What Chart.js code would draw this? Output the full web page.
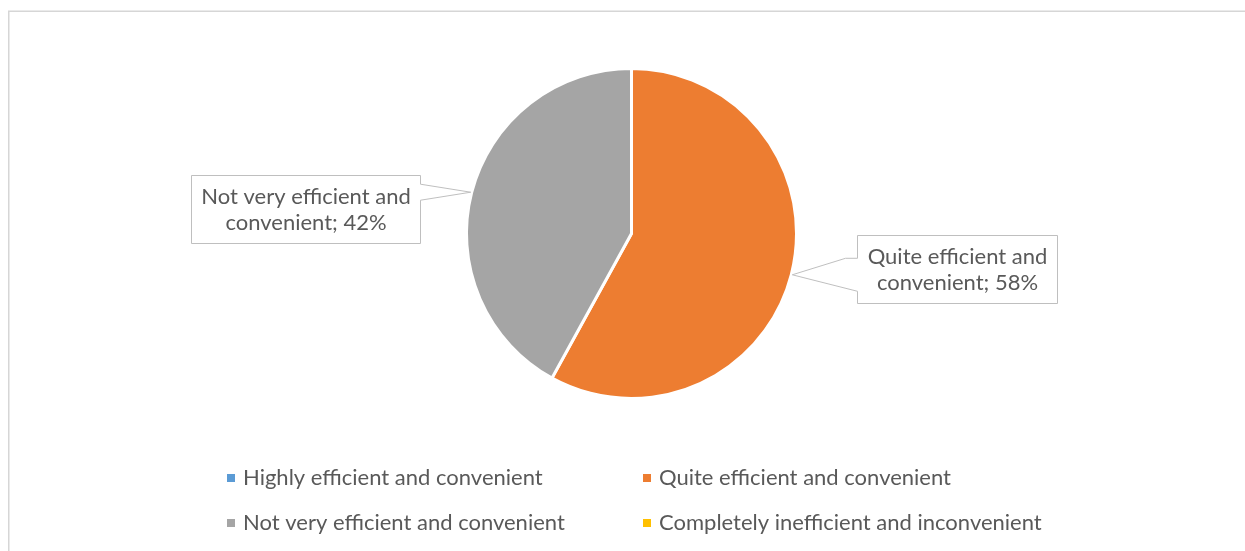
<!DOCTYPE html>
<html>
<head>
<meta charset="utf-8">
<script src="https://cdn.jsdelivr.net/npm/chart.js@4.4.1/dist/chart.umd.min.js"></script>
<style>
  html, body { margin: 0; padding: 0; background: #fff; }
  #wrap { position: relative; width: 1245px; height: 551px; }
</style>
</head>
<body>
<div id="wrap"><canvas id="efficiencyChart"></canvas></div>
<script>
const categories = [
    'Highly efficient and convenient',
    'Quite efficient and convenient',
    'Not very efficient and convenient',
    'Completely inefficient and inconvenient'
];
const shares = [0, 58, 42, 0];
const sliceColors = ['#5B9BD5', '#ED7D31', '#A5A5A5', '#FFC000'];

const TEXT_COLOR = '#595959';
const FONT = 'Lato, "Open Sans", sans-serif';
const LINE_H = 26;

// where each data callout sits relative to its leader tip
const calloutLayout = {
    1: { side: 'right', gap: 65, shiftY: -6, base: 33 },
    2: { side: 'left', gap: 51, shiftY: 17, base: 16 }
};

function wrapWords(ctx, text, maxWidth) {
    const words = text.split(' ');
    const lines = [];
    let line = '';
    words.forEach(w => {
        const test = line ? line + ' ' + w : w;
        if (line && ctx.measureText(test).width > maxWidth) {
            lines.push(line);
            line = w;
        } else {
            line = test;
        }
    });
    if (line) lines.push(line);
    return lines;
}

// light outline round the whole chart
const framePlugin = {
    id: 'frame',
    beforeDraw(chart) {
        const ctx = chart.ctx;
        ctx.save();
        ctx.strokeStyle = '#D6D6D6';
        ctx.lineWidth = 1.5;
        ctx.strokeRect(8.75, 11.25, 1400, 700);
        ctx.restore();
    }
};

// boxed labels with a wedge pointing at the slice
const calloutPlugin = {
    id: 'callouts',
    afterDatasetsDraw(chart) {
        const ctx = chart.ctx;
        const meta = chart.getDatasetMeta(0);
        ctx.save();
        ctx.font = '22px ' + FONT;
        meta.data.forEach((arc, i) => {
            const layout = calloutLayout[i];
            if (!layout || !shares[i]) return;
            const p = arc.getProps(['x', 'y', 'startAngle', 'endAngle', 'outerRadius'], true);
            const mid = (p.startAngle + p.endAngle) / 2;
            const tipX = p.x + Math.cos(mid) * (p.outerRadius + 1);
            const tipY = p.y + Math.sin(mid) * (p.outerRadius + 1);

            const lines = wrapWords(ctx, categories[i] + '; ' + shares[i] + '%', 228);
            const w = Math.round(Math.max(...lines.map(l => ctx.measureText(l).width)) + 20);
            const h = lines.length * LINE_H + 16;
            const top = Math.round(tipY + layout.shiftY - h / 2) + 0.5;
            const bottom = top + h;
            const b1 = Math.max(top + 2, tipY - layout.base / 2);
            const b2 = Math.min(bottom - 2, tipY + layout.base / 2);

            let left, right;
            ctx.beginPath();
            if (layout.side === 'right') {
                left = Math.round(tipX + layout.gap) + 0.5;
                right = left + w;
                ctx.moveTo(left, top);
                ctx.lineTo(right, top);
                ctx.lineTo(right, bottom);
                ctx.lineTo(left, bottom);
                ctx.lineTo(left, b2);
                ctx.lineTo(tipX, tipY);
                ctx.lineTo(left - 12, b1);
                ctx.lineTo(left, b1);
            } else {
                right = Math.round(tipX - layout.gap) + 0.5;
                left = right - w;
                ctx.moveTo(left, top);
                ctx.lineTo(right, top);
                ctx.lineTo(right, b1);
                ctx.lineTo(tipX, tipY);
                ctx.lineTo(right, b2);
                ctx.lineTo(right, bottom);
                ctx.lineTo(left, bottom);
            }
            ctx.closePath();
            ctx.fillStyle = '#FFFFFF';
            ctx.fill();
            ctx.strokeStyle = '#BFBFBF';
            ctx.lineWidth = 1;
            ctx.stroke();

            ctx.fillStyle = TEXT_COLOR;
            ctx.textAlign = 'center';
            ctx.textBaseline = 'alphabetic';
            lines.forEach((l, k) => {
                ctx.fillText(l, (left + right) / 2, top + 28 + k * LINE_H);
            });
        });
        ctx.restore();
    }
};

// two-column legend under the pie, zero slices included
const legendPlugin = {
    id: 'gridLegend',
    afterDraw(chart) {
        const ctx = chart.ctx;
        const colX = [227, 643];
        const rowY = [478, 523];
        ctx.save();
        ctx.font = '22px ' + FONT;
        ctx.textBaseline = 'middle';
        ctx.textAlign = 'left';
        categories.forEach((name, i) => {
            const x = colX[i % 2];
            const y = rowY[Math.floor(i / 2)];
            ctx.fillStyle = sliceColors[i];
            ctx.fillRect(x, y - 4, 8, 8);
            ctx.fillStyle = TEXT_COLOR;
            ctx.fillText(name, x + 16, y);
        });
        ctx.restore();
    }
};

new Chart(document.getElementById('efficiencyChart'), {
    type: 'pie',
    data: {
        labels: categories,
        datasets: [{
            data: shares,
            backgroundColor: sliceColors,
            borderColor: '#FFFFFF',
            borderWidth: 3
        }]
    },
    options: {
        responsive: true,
        maintainAspectRatio: false,
        animation: false,
        layout: {
            padding: { left: 18, right: 0, top: 67, bottom: 151 }
        },
        plugins: {
            legend: { display: false },
            tooltip: { enabled: false }
        }
    },
    plugins: [framePlugin, calloutPlugin, legendPlugin]
});
</script>
</body>
</html>
